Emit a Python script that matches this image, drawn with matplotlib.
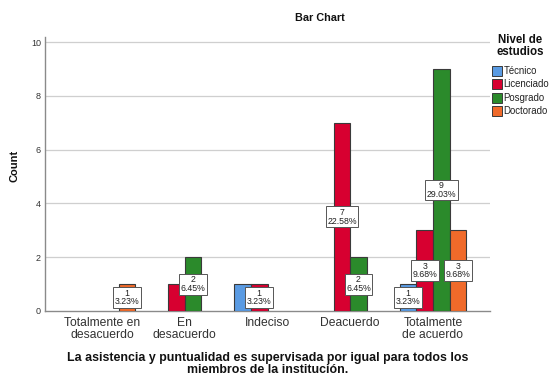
import matplotlib
matplotlib.use("Agg")
import matplotlib.pyplot as plt
from matplotlib.patches import Rectangle
import numpy as np

plt.rcParams["font.family"] = ["Liberation Sans", "DejaVu Sans"]

categories = ["Totalmente en\ndesacuerdo", "En\ndesacuerdo", "Indeciso",
              "Deacuerdo", "Totalmente\nde acuerdo"]
niveles = ["Técnico", "Licenciado", "Posgrado", "Doctorado"]
tecnico = [0, 0, 1, 0, 1]
licenciado = [0, 1, 1, 7, 3]
posgrado = [0, 2, 0, 2, 9]
doctorado = [1, 0, 0, 0, 3]
total = 31

# labels SPSS dropped because they overlapped a neighbour
hidden_labels = [("Licenciado", 1), ("Técnico", 2)]

colors = ["#5A9BE3", "#D70030", "#2B8A2B", "#F06A2A"]
series = [tecnico, licenciado, posgrado, doctorado]

W, H = 550, 379
fig = plt.figure(figsize=(5.5, 3.79), dpi=100)
ax = fig.add_axes([45 / W, 68 / H, 445 / W, 274 / H])

x = np.arange(len(categories))
width = 0.2
offsets = [-0.3, -0.1, 0.1, 0.3]

for name, vals, col, off in zip(niveles, series, colors, offsets):
    for i, v in enumerate(vals):
        if v == 0:
            continue
        ax.bar(x[i] + off, v, width=width, color=col, edgecolor="#3a3a3a",
               linewidth=0.8, zorder=3)
        if (name, i) in hidden_labels:
            continue
        ax.text(x[i] + off, v / 2, f"{v}\n{v / total * 100:.2f}%",
                ha="center", va="center", fontsize=6.3, color="#222222",
                linespacing=0.95, zorder=5,
                bbox=dict(boxstyle="square,pad=0.18", facecolor="white",
                          edgecolor="#555555", linewidth=0.7))

ax.set_xlim(-0.689, 4.689)
ax.set_ylim(0, 10.19)
ax.set_yticks(range(0, 11, 2))
ax.set_xticks(x)
ax.set_xticklabels(categories, fontsize=8.7, color="#333333", linespacing=1.0)
ax.tick_params(axis="x", length=0, pad=4)
ax.tick_params(axis="y", length=0, pad=3, labelsize=6.5, labelcolor="#333333")

for yv in range(2, 11, 2):
    ax.axhline(yv, color="#cfcfcf", linewidth=0.9, zorder=1)

for s in ["top", "right"]:
    ax.spines[s].set_visible(False)
for s in ["left", "bottom"]:
    ax.spines[s].set_color("#8a8a8a")
    ax.spines[s].set_linewidth(1.0)

fig.text(320 / W, 1 - 18 / H, "Bar Chart", ha="center", va="center",
         fontsize=7.8, fontweight="bold", color="#111111")
fig.text(15 / W, 1 - 166 / H, "Count", ha="center", va="center",
         rotation=90, fontsize=8, fontweight="bold", color="#111111")
fig.text(268 / W, 1 - 364 / H,
         "La asistencia y puntualidad es supervisada por igual para todos los\n"
         "miembros de la institución.",
         ha="center", va="center", multialignment="center", linespacing=1.0,
         fontsize=8.9, fontweight="bold", color="#111111")

# legend drawn by hand in pixel positions
fig.text(520 / W, 1 - 46 / H, "Nivel de\nestudios", ha="center", va="center",
         multialignment="center", linespacing=0.95, fontsize=8.3,
         fontweight="bold", color="#111111")
for k, (name, col) in enumerate(zip(niveles, colors)):
    yc = 71 + k * 13.4
    fig.add_artist(Rectangle((492 / W, 1 - (yc + 5) / H), 10 / W, 10 / H,
                             transform=fig.transFigure, facecolor=col,
                             edgecolor="#3a3a3a", linewidth=0.7))
    fig.text(503.5 / W, 1 - yc / H, name, ha="left", va="center",
             fontsize=6.9, color="#222222")

fig.savefig("out.png", dpi=100)
